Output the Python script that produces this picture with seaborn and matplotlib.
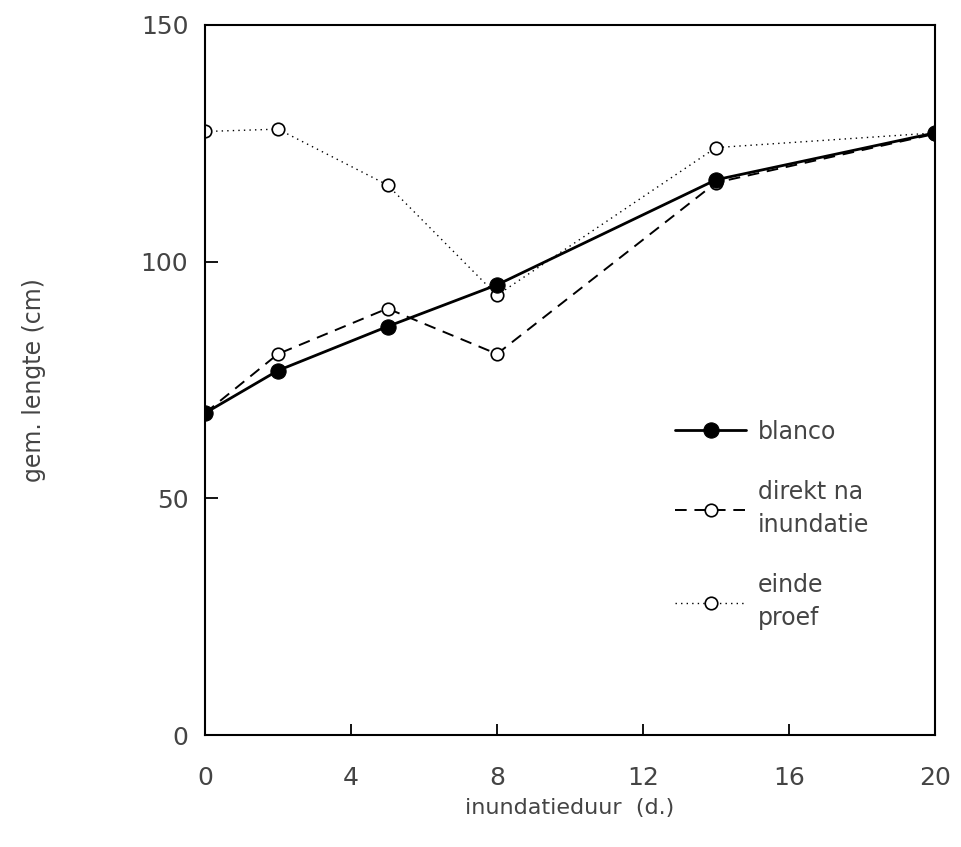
import matplotlib
matplotlib.use("Agg")
import matplotlib.pyplot as plt
import seaborn as sns
import pandas as pd

days = [0, 2, 5, 8, 14, 20]
blanco = [68.0, 77.0, 86.3, 95.1, 117.3, 127.2]
direkt = [68.0, 80.5, 90.1, 80.5, 116.7, 127.0]
einde = [127.5, 128.0, 116.2, 92.9, 124.1, 127.2]
labels = ["blanco", "direkt na\ninundatie", "einde\nproef"]
xticks = [0, 4, 8, 12, 16, 20]
yticks = [0, 50, 100, 150]

sns.set_theme(style="white")
plt.rcParams['font.family'] = ['DejaVu Sans']
plt.rcParams['ytick.left'] = True
plt.rcParams['xtick.bottom'] = True

fig = plt.figure(figsize=(9.62, 8.47), dpi=100)
ax = fig.add_axes([205/962, 1-735/847, 730/962, 710/847])

txt = '#444444'
df_b = pd.DataFrame({"x": days, "y": blanco})
df_d = pd.DataFrame({"x": days, "y": direkt})
df_e = pd.DataFrame({"x": days, "y": einde})

sns.lineplot(data=df_e, x="x", y="y", ax=ax, color='black', lw=1.0,
             linestyle=(0, (1, 3)), marker='o', markersize=9,
             markerfacecolor='white', markeredgecolor='black', markeredgewidth=1.2,
             label=labels[2])
sns.lineplot(data=df_d, x="x", y="y", ax=ax, color='black', lw=1.4,
             linestyle=(0, (6, 4)), marker='o', markersize=9,
             markerfacecolor='white', markeredgecolor='black', markeredgewidth=1.2,
             label=labels[1])
sns.lineplot(data=df_b, x="x", y="y", ax=ax, color='black', lw=2.0,
             linestyle='-', marker='o', markersize=11,
             markerfacecolor='black', markeredgecolor='black',
             label=labels[0])

ax.set_xlim(0, 20)
ax.set_ylim(0, 150)
ax.set_xticks(xticks)
ax.set_yticks(yticks)
ax.tick_params(axis='x', direction='in', length=8, width=1.3,
               labelsize=18, labelcolor=txt, color='black',
               bottom=True, pad=22)
ax.tick_params(axis='y', direction='in', length=9, width=1.3,
               labelsize=18, labelcolor=txt, color='black',
               left=True, pad=12)
for s in ax.spines.values():
    s.set_color('black')
    s.set_linewidth(1.5)
ax.set_xlabel("inundatieduur  (d.)", fontsize=16, color=txt, labelpad=6)
ax.set_ylabel("gem. lengte (cm)", fontsize=17, color=txt, labelpad=68)

h, l = ax.get_legend_handles_labels()
order = [2, 1, 0]
leg = ax.legend([h[i] for i in order], [l[i] for i in order],
                loc='upper left', bbox_to_anchor=(0.615, 0.474), frameon=False,
                fontsize=17, handlelength=3.0, labelspacing=1.55,
                handletextpad=0.5)
for t in leg.get_texts():
    t.set_color(txt)
    t.set_linespacing(1.45)

fig.savefig("out.png", dpi=100, facecolor='white')
